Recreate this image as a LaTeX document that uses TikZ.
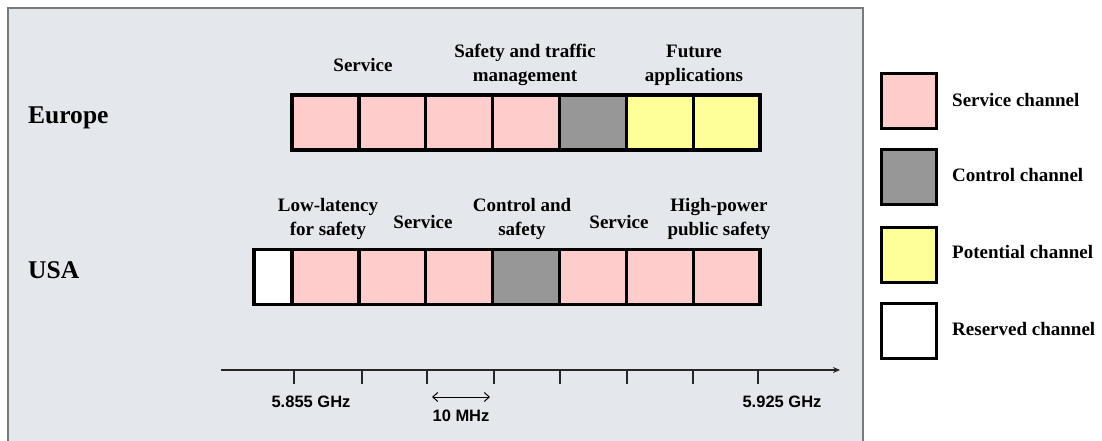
\documentclass[tikz,border=0pt]{standalone}
\usepackage{fontspec}
\setmainfont{Liberation Serif}
\newfontfamily\axisfont{Liberation Sans}
\usetikzlibrary{arrows.meta}
\definecolor{panelbg}{HTML}{E4E7EC}
\definecolor{panelline}{HTML}{7A7A7A}
\definecolor{svc}{HTML}{FFCCCC}
\definecolor{ctl}{HTML}{979797}
\definecolor{pot}{HTML}{FFFF99}
\begin{document}
\begin{tikzpicture}[x=1pt,y=-1pt,
  cell/.style={draw=black,line width=3.2pt,minimum width=66.9pt,minimum height=55pt,inner sep=0pt,outer sep=0pt,anchor=north west},
  svccell/.style={cell,fill=svc},
  ctlcell/.style={cell,fill=ctl},
  potcell/.style={cell,fill=pot},
  rescell/.style={cell,fill=white,minimum width=38pt},
  legbox/.style={draw=black,line width=3.2pt,minimum width=55pt,minimum height=55pt,inner sep=0pt,anchor=north west},
  legtext/.style={anchor=west,font=\bfseries\fontsize{19}{22}\selectfont,inner sep=0pt},
  toplabel/.style={align=center,font=\bfseries\fontsize{19}{24}\selectfont,inner sep=0pt},
  region/.style={anchor=west,font=\bfseries\fontsize{25.5}{28}\selectfont,inner sep=0pt},
  axlabel/.style={font=\axisfont\bfseries\fontsize{16.5}{18}\selectfont,inner sep=0pt},
  tick/.style={line width=1.3pt,draw=black!85}
]
\useasboundingbox (0,0) rectangle (1102,441);
\fill[white] (0,0) rectangle (1102,441);
% panel
\fill[panelbg] (8,8) rectangle (863,441);
\draw[panelline,line width=1.2pt] (8,441) -- (8,8) -- (863,8) -- (863,441);

% region labels
\node[region] (eu) at (28,118) {Europe};
\node[region] (us) at (28,270) {USA};

% Europe bar
\node[svccell] (e1) at (292,95) {};
\node[svccell] (e2) at (358.9,95) {};
\node[svccell] (e3) at (425.7,95) {};
\node[svccell] (e4) at (492.6,95) {};
\node[ctlcell] (e5) at (559.4,95) {};
\node[potcell] (e6) at (626.3,95) {};
\node[potcell] (e7) at (693.1,95) {};

% USA bar
\node[rescell] (u0) at (254,249.5) {};
\node[svccell] (u1) at (292,249.5) {};
\node[svccell] (u2) at (358.9,249.5) {};
\node[svccell] (u3) at (425.7,249.5) {};
\node[ctlcell] (u4) at (492.6,249.5) {};
\node[svccell] (u5) at (559.4,249.5) {};
\node[svccell] (u6) at (626.3,249.5) {};
\node[svccell] (u7) at (693.1,249.5) {};

% Europe labels
\node[toplabel] (el1) at (363,65) {Service};
\node[toplabel] (el2) at (525,65) {Safety and traffic\\management};
\node[toplabel] (el3) at (694,65) {Future\\applications};

% USA labels
\node[toplabel] (ul1) at (328,219) {Low-latency\\for safety};
\node[toplabel] (ul2) at (423,222) {Service};
\node[toplabel] (ul3) at (522,219) {Control and\\safety};
\node[toplabel] (ul4) at (619,222) {Service};
\node[toplabel] (ul5) at (719,219) {High-power\\public safety};

% axis
\coordinate (ax0) at (221,370);
\coordinate (ax1) at (840,370);
\draw[line width=1.5pt,draw=black!85,-{Stealth[length=7pt,width=6pt]}] (ax0) -- (ax1);
\foreach \x/\n in {294/t1,362/t2,427/t3,494/t4,560/t5,627/t6,693/t7,758/t8}{
  \coordinate (\n a) at (\x,370);
  \coordinate (\n b) at (\x,384);
  \draw[tick] (\n a) -- (\n b);
}
\node[axlabel] (f1) at (311,402) {5.855 GHz};
\node[axlabel] (f2) at (782,402) {5.925 GHz};
\coordinate (bw0) at (432,397);
\coordinate (bw1) at (490,397);
\draw[line width=1pt,{Straight Barb[length=5pt,width=9pt]}-{Straight Barb[length=5pt,width=9pt]}] (bw0) -- (bw1);
\node[axlabel] (bw) at (461,416) {10 MHz};

% legend
\node[legbox,fill=svc] (l1) at (880,72) {};
\node[legbox,fill=ctl] (l2) at (880,148) {};
\node[legbox,fill=pot] (l3) at (880,226) {};
\node[legbox,fill=white] (l4) at (880,302) {};
\node[legtext] (lt1) at (952,100) {Service channel};
\node[legtext] (lt2) at (952,175) {Control channel};
\node[legtext] (lt3) at (952,252) {Potential channel};
\node[legtext] (lt4) at (952,329) {Reserved channel};
\end{tikzpicture}
\end{document}
